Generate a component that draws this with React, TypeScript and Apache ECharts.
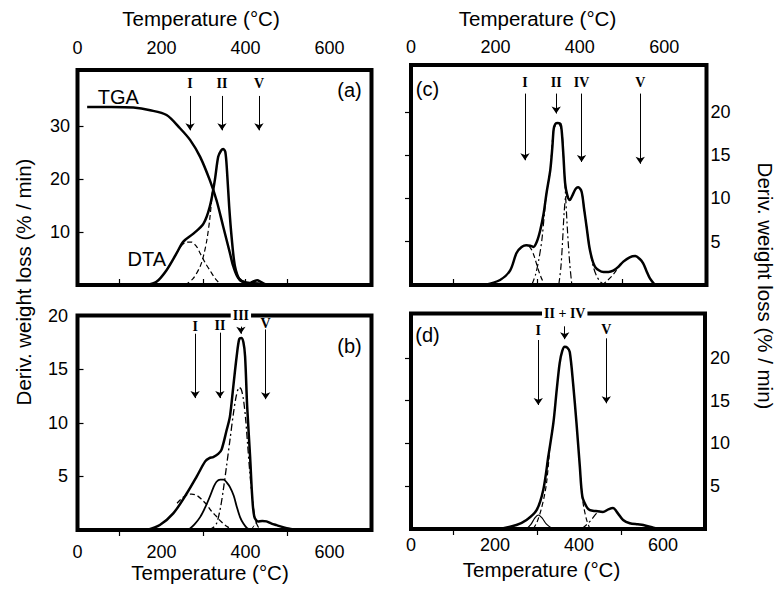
import React, { useEffect, useRef } from 'react';
import * as echarts from 'echarts';

// ---------- axis ticks / labels ----------
const xTickLabels = [0, 200, 400, 600];
const xTicksA = [100, 300, 400, 500];
const xTicksOther = [100, 300, 500];
const yTicksA = [10, 20, 30];
const yTicksB = [5, 10, 15];
const yLabelsB = [5, 10, 15, 20];
const yTicksCD = [5, 10, 15, 20];

// ---------- panel (a) ----------
const aTGA = [[23, 33.6], [80, 33.6], [133, 33.5], [173, 33.0], [212, 32.1], [244, 29.6], [268, 27.4], [292, 24.2], [315, 19.8], [331, 16.0], [347, 11.0], [363, 6.0], [371, 3.5], [383, 1.3], [403, 0.4], [430, 0.3], [450, 0.1], [470, 0]];
const aDTA = [[165, 0], [188, 0.6], [212, 2.8], [236, 6.0], [252, 8.2], [276, 9.7], [300, 11.6], [315, 14.8], [327, 19.8], [335, 24.2], [342, 25.4], [347, 25.7], [352, 25.1], [356, 21.5], [361, 15], [367, 9.0], [375, 3.5], [387, 0.9], [400, 0.5], [411, 0.4], [420, 0.7], [428, 0.9], [436, 0.6], [445, 0.2], [458, 0]];
const aCompI = [[236, 6.0], [248, 7.5], [260, 8.1], [272, 8.1], [284, 7.2], [292, 6.0], [304, 4.2], [315, 2.8], [330, 1.0], [343, 0]];
const aCompII = [[256, 0], [275, 1.2], [292, 3.5], [300, 5.5], [308, 8.5], [315, 12.5], [321, 17.5]];
const aMarkNames = ['I', 'II', 'V'];
const aMarkT = [268, 344, 432];
const aMarkLabelY = [38, 38, 38];
const aArrowFrom = [35.7, 35.7, 35.7];
const aArrowTo = [29.2, 29.2, 29.2];
const aCurveNames = ['TGA', 'DTA'];
const aCurveNamePos = [[97, 35.5], [165, 5.0]];

// ---------- panel (b) ----------
const bMain = [[165, 0], [196, 0.47], [228, 1.55], [260, 3.4], [284, 5.0], [304, 6.4], [314, 6.7], [323, 6.8], [335, 7.1], [343, 7.5], [355, 9.3], [363, 10.6], [371, 13.4], [379, 16.2], [385, 17.8], [390, 17.9], [395, 17.5], [399, 16.2], [404, 11.5], [411, 6.8], [416, 3.1], [421, 1.24], [430, 0.8], [440, 0.85], [450, 0.8], [462, 0.6], [474, 0.45], [498, 0.16], [522, 0]];
const bCompI = [[237, 2.5], [250, 3.0], [262, 3.3], [272, 3.35], [285, 3.2], [297, 2.8], [307, 2.4], [320, 1.7], [330, 1.3], [339, 0.9], [355, 0.35], [371, 0]];
const bCompII = [[264, 0], [278, 0.5], [292, 1.2], [304, 2.1], [315, 3.1], [324, 4.0], [331, 4.5], [340, 4.7], [348, 4.7], [356, 4.4], [363, 4.0], [372, 3.2], [379, 2.2], [387, 1.2], [395, 0.6], [403, 0.2], [411, 0]];
const bCompIII = [[311, 0], [322, 0.2], [331, 0.6], [340, 2], [347, 3.7], [355, 6], [363, 8.4], [371, 10.8], [378, 12.5], [385, 13.3], [390, 13.1], [395, 12.2], [400, 10.5], [405, 8], [410, 5.5], [416, 3], [423, 1], [430, 0.3], [437, 0]];
const bCompV = [[414, 0], [420, 0.4], [428, 0.8]];
const bMarkNames = ['I', 'II', 'III', 'V'];
const bMarkT = [280, 339, 389, 448];
const bMarkLabelY = [19.0, 19.1, 20, 19.3];
const bArrowFrom = [18.3, 18.4, 18.96, 18.7];
const bArrowTo = [12.3, 12.3, 18.3, 12.2];

// ---------- panel (c) ----------
const cMain = [[172, 0], [211, 0.58], [235, 1.7], [250, 3.7], [262, 4.4], [274, 4.6], [284, 4.5], [290, 4.4], [298, 5.0], [306, 6.3], [314, 8.2], [321, 10.6], [330, 13.3], [335, 16], [338, 18], [342, 18.6], [348, 18.7], [354, 18.6], [357, 17.8], [361, 15], [365, 11.8], [370, 10.4], [376, 9.8], [383, 10.4], [390, 11.1], [396, 11.3], [404, 10.8], [410, 8.8], [416, 6.7], [424, 4.0], [436, 2.1], [456, 1.5], [468, 1.5], [479, 1.65], [491, 2.1], [503, 2.7], [518, 3.2], [531, 3.35], [542, 3.0], [550, 2.5], [558, 1.6], [566, 0.77], [578, 0]];
const cCompI = [[262, 4.4], [274, 4.6], [284, 4.2], [292, 3.3], [300, 2.0], [308, 0.9], [317, 0]];
const cCompII = [[286, 0], [295, 1.2], [303, 3], [310, 5.2], [316, 8.2], [321, 10.6], [330, 13.3], [338, 18], [348, 18.7], [357, 17.8], [361, 15], [366, 10.5], [371, 6], [376, 2.5], [381, 0]];
const cCompIV = [[350, 0], [355, 2], [359, 5], [363, 8.5], [368, 10.3], [376, 9.8], [383, 10.4], [390, 11.1], [396, 11.3], [404, 10.8], [410, 8.8], [416, 6.7], [424, 4.0], [432, 2.1], [440, 1], [450, 0.3], [460, 0]];
const cCompV = [[452, 0], [465, 0.5], [479, 1.2], [491, 2.0], [503, 2.7]];
const cMarkNames = ['I', 'II', 'IV', 'V'];
const cMarkT = [270, 344, 404, 543];
const cMarkLabelY = [23.4, 23.4, 23.4, 23.4];
const cArrowFrom = [22.1, 22.1, 22.1, 22.1];
const cArrowTo = [14.4, 19.8, 14.2, 14.0];

// ---------- panel (d) ----------
const dMain = [[212, 0], [251, 0.47], [275, 1.05], [299, 2.2], [315, 4.6], [327, 8.5], [339, 12.4], [347, 16.3], [354, 19.4], [360, 20.8], [366, 21.3], [372, 21.2], [378, 20.7], [386, 17.0], [394, 12.4], [402, 7.3], [408, 3.8], [418, 2.6], [426, 2.2], [440, 2.1], [457, 2.0], [470, 2.3], [481, 2.45], [493, 1.8], [505, 1.05], [521, 0.67], [540, 0.55], [553, 0.47], [577, 0.15], [589, 0]];
const dCompI = [[275, 0], [285, 0.5], [295, 1.3], [303, 1.64], [312, 1.3], [322, 0.6], [338, 0]];
const dCompIIIV = [[291, 0], [300, 0.8], [310, 2.3], [318, 4], [323, 5.5], [328, 8], [331, 10]];
const dCompIIIVright = [[404, 6.0], [408, 3.6], [412, 2.4], [418, 1.1], [426, 0]];
const dCompV = [[406, 0], [418, 0.5], [430, 1.1], [441, 1.8], [450, 2.1]];
const dMarkNames = ['I', 'II + IV', 'V'];
const dMarkT = [303, 366, 465];
const dMarkLabelY = [23.2, 25.2, 23.3];
const dArrowFrom = [22.1, 23.7, 22.3];
const dArrowTo = [14.5, 22.2, 14.7];

const Y_MAX = [40.6, 20, 25.4, 25.2];
const SANS = 'Liberation Sans, Arial, sans-serif';
const SERIF = 'Liberation Serif, Times New Roman, serif';
const DASH = [5, 3];
const DASHDOT = [7, 3, 2, 3];

function curve(data: number[][], gi: number, width: number, type: any = 'solid') {
  return {
    type: 'line', xAxisIndex: gi, yAxisIndex: gi, data, symbol: 'none', smooth: 0.3,
    silent: true, lineStyle: { color: '#000', width, type }, z: width > 2 ? 4 : 3,
  };
}

function arrows(gi: number, xs: number[], from: number[], to: number[]) {
  return {
    type: 'lines', coordinateSystem: 'cartesian2d', xAxisIndex: gi, yAxisIndex: gi, silent: true,
    symbol: ['none', 'arrow'], symbolSize: [4, 7],
    lineStyle: { color: '#000', width: 1, opacity: 1, curveness: 0 },
    data: xs.map((x, i) => ({ coords: [[x, from[i]], [x, to[i]]] })),
    z: 5,
  };
}

const hiddenItem = { color: 'rgba(0,0,0,0)', opacity: 1 };

function numerals(gi: number, names: string[], xs: number[], ys: number[]) {
  return {
    type: 'scatter', xAxisIndex: gi, yAxisIndex: gi, silent: true, clip: false,
    symbolSize: 1, itemStyle: hiddenItem, z: 10,
    data: names.map((n, i) => {
      const onBorder = ys[i] >= Y_MAX[gi] - 0.01;
      return {
        name: n, value: [xs[i], ys[i]],
        label: onBorder ? { backgroundColor: '#fff', padding: [1, 2] } : undefined,
      };
    }),
    label: {
      show: true, position: 'inside', formatter: '{b}', color: '#000', opacity: 1,
      textBorderWidth: 0, textBorderColor: 'transparent',
      fontFamily: SERIF, fontWeight: 'bold', fontSize: 14,
    },
  };
}

function curveNames(gi: number, names: string[], pos: number[][]) {
  return {
    type: 'scatter', xAxisIndex: gi, yAxisIndex: gi, silent: true, clip: false,
    symbolSize: 1, itemStyle: hiddenItem, z: 10,
    data: names.map((n, i) => ({ name: n, value: pos[i] })),
    label: {
      show: true, position: 'inside', formatter: '{b}', color: '#000', opacity: 1,
      textBorderWidth: 0, textBorderColor: 'transparent', fontFamily: SANS, fontSize: 20,
    },
  };
}

function xAxis(gi: number, position: string, ticks: number[], margin: number) {
  return {
    gridIndex: gi, type: 'value', min: 0, max: 700, position,
    axisLine: { show: false }, splitLine: { show: false },
    axisTick: { show: true, customValues: ticks, length: 6, lineStyle: { color: '#000', width: 1.2 } },
    axisLabel: { customValues: xTickLabels, fontSize: 18, color: '#000', fontFamily: SANS, margin },
  };
}

function yAxis(gi: number, position: string, ticks: number[], labels: number[], margin: number) {
  return {
    gridIndex: gi, type: 'value', min: 0, max: Y_MAX[gi], position,
    axisLine: { show: false }, splitLine: { show: false },
    axisTick: { show: true, inside: true, customValues: ticks, length: 6, lineStyle: { color: '#000', width: 1.2 } },
    axisLabel: { customValues: labels, fontSize: 18, color: '#000', fontFamily: SANS, margin },
  };
}

const gridStyle = { show: true, borderWidth: 4, borderColor: '#000', backgroundColor: 'transparent' };

export default function App() {
  const ref = useRef<HTMLDivElement>(null);
  useEffect(() => {
    if (!ref.current) return;
    const chart = echarts.init(ref.current, null, { renderer: 'svg' });
    const title = 'Temperature (°C)';
    const yTitle = 'Deriv. weight loss (% / min)';
    const txt = (text: string, x: number, y: number, extra: any = {}) => ({
      type: 'text', x, y, ...extra,
      style: { text, fill: '#000', font: `20.5px ${SANS}`, textAlign: 'center', textVerticalAlign: 'middle', ...(extra.style || {}) },
    });
    chart.setOption({
      animation: false,
      backgroundColor: '#fff',
      grid: [
        { left: 77.5, top: 70, width: 294, height: 215, ...gridStyle },
        { left: 77.5, top: 315.5, width: 294, height: 214.5, ...gridStyle },
        { left: 411, top: 65, width: 295.5, height: 220, ...gridStyle },
        { left: 411, top: 313.5, width: 294, height: 215.5, ...gridStyle },
      ],
      xAxis: [
        xAxis(0, 'top', xTicksA, 13),
        xAxis(1, 'bottom', xTicksOther, 13),
        xAxis(2, 'top', xTicksOther, 9.5),
        xAxis(3, 'bottom', xTicksOther, 7),
      ],
      yAxis: [
        yAxis(0, 'left', yTicksA, yTicksA, 7.5),
        yAxis(1, 'left', yTicksB, yLabelsB, 9.5),
        yAxis(2, 'right', yTicksCD, yTicksCD, 4),
        yAxis(3, 'right', yTicksCD, yTicksCD, 5),
      ],
      series: [
        curve(aTGA, 0, 2.5),
        curve(aDTA, 0, 2.5),
        curve(aCompI, 0, 1.2, DASH),
        curve(aCompII, 0, 1.2, DASH),
        arrows(0, aMarkT, aArrowFrom, aArrowTo),
        numerals(0, aMarkNames, aMarkT, aMarkLabelY),
        curveNames(0, aCurveNames, aCurveNamePos),

        curve(bMain, 1, 2.5),
        curve(bCompI, 1, 1.3, DASH),
        curve(bCompII, 1, 1.8),
        curve(bCompIII, 1, 1.3, DASHDOT),
        curve(bCompV, 1, 1, DASH),
        arrows(1, bMarkT, bArrowFrom, bArrowTo),
        numerals(1, bMarkNames, bMarkT, bMarkLabelY),

        curve(cMain, 2, 2.5),
        curve(cCompI, 2, 1.2, DASH),
        curve(cCompII, 2, 1.2, DASHDOT),
        curve(cCompIV, 2, 1.2, DASHDOT),
        curve(cCompV, 2, 1.2, DASH),
        arrows(2, cMarkT, cArrowFrom, cArrowTo),
        numerals(2, cMarkNames, cMarkT, cMarkLabelY),

        curve(dMain, 3, 2.5),
        curve(dCompI, 3, 1.2),
        curve(dCompIIIV, 3, 1.2, DASH),
        curve(dCompIIIVright, 3, 1.2, DASH),
        curve(dCompV, 3, 1.2, DASHDOT),
        arrows(3, dMarkT, dArrowFrom, dArrowTo),
        numerals(3, dMarkNames, dMarkT, dMarkLabelY),
      ],
      graphic: [
        txt(title, 201, 18.5),
        txt(title, 537.5, 18.5),
        txt(title, 210, 572),
        txt(title, 541.5, 569),
        txt(yTitle, 23, 282, { rotation: Math.PI / 2 }),
        txt(yTitle, 765, 286, { rotation: -Math.PI / 2 }),
        txt('(a)', 349.5, 90, { style: { font: `20px ${SANS}` } }),
        txt('(b)', 349.5, 345.5, { style: { font: `20px ${SANS}` } }),
        txt('(c)', 427.5, 89, { style: { font: `20px ${SANS}` } }),
        txt('(d)', 427.5, 334.5, { style: { font: `20px ${SANS}` } }),
      ],
    });
    return () => chart.dispose();
  }, []);
  return <div ref={ref} style={{ position: 'fixed', left: 0, top: 0, width: 777, height: 591 }} />;
}
